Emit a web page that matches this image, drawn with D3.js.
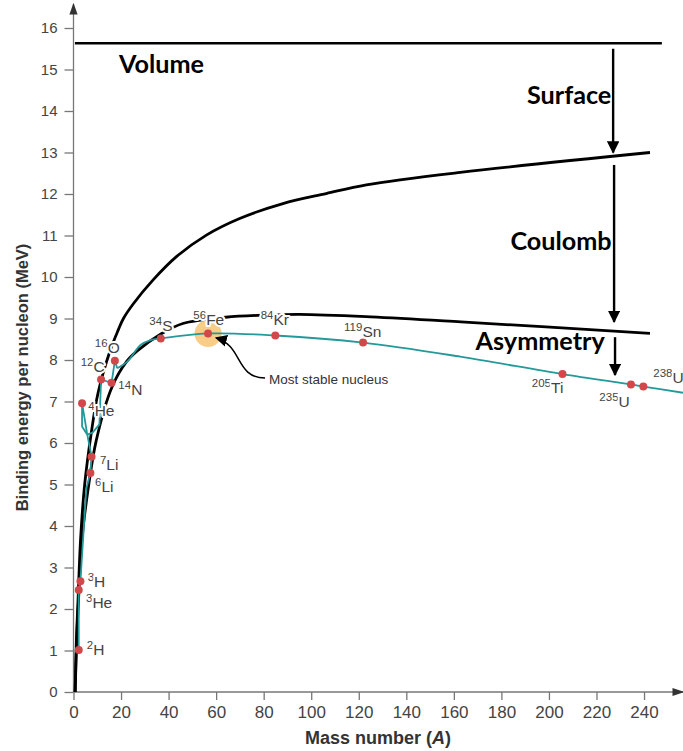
<!DOCTYPE html>
<html><head><meta charset="utf-8">
<script src="https://cdn.jsdelivr.net/npm/d3@7"></script>
<style>
body{margin:0;background:#fff;}
svg{display:block;}
</style></head><body>
<svg id="chart" width="683" height="751"></svg>
<script>
// ---------- data ----------
const xTickValues = [0,20,40,60,80,100,120,140,160,180,200,220,240];
const yTickValues = [0,1,2,3,4,5,6,7,8,9,10,11,12,13,14,15,16];

const volumeLine = [[0.6,15.63],[247.5,15.63]];

const surfaceCurve = [[0.7,0],[1.2,1.2],[1.9,2.2],[3.0,3.7],[4.7,5.0],[7.5,6.25],[10.3,7.2],[15.5,8.24],
  [18.8,8.72],[21,9.0],[25.1,9.35],[33.5,9.93],[43.3,10.49],[55.9,11.01],[69.9,11.41],[88.1,11.77],
  [106.3,12.01],[123.2,12.22],[162.7,12.52],[242.5,13.0]];

const asymmetryCurve = [[0.7,0],[1.3,1.2],[2.1,2.2],[3.6,3.7],[6.1,4.87],[9.6,6.07],[16.2,7.35],[22.3,7.96],
  [26.8,8.22],[36.6,8.62],[46,8.88],[64,9.03],[80,9.08],[95,9.1],[125,9.04],[163,8.92],[242.5,8.64]];

// jagged light-nuclei part, then the smooth heavy part
const experimentalLight = [[2.2,1.01],[2.2,2.46],[2.9,2.67],[5.4,4.9],[7.1,5.28],[7.6,5.67],[5.8,6.2],
  [3.6,6.96],[3.6,6.4],[5.8,6.2],[8.0,6.25],[10.9,6.45],[11.6,7.53],[16.0,7.45],[17.4,7.98],[18.4,7.8]];
const experimentalHeavy = [[18.4,7.8],[22.6,7.96],[28.2,8.36],[32.4,8.48],[36.7,8.52],[56.6,8.64],
  [84.9,8.59],[121.8,8.42],[162.7,8.08],[205.7,7.66],[234.5,7.41],[239.7,7.36],[256.4,7.21]];

const isotopeMass   = ["2","3","3","4","6","7","12","14","16","34","56","84","119","205","235","238"];
const isotopeSymbol = ["H","H","He","He","Li","Li","C","N","O","S","Fe","Kr","Sn","Ti","U","U"];
const isotopeA      = [2.2,2.9,2.2,3.6,7.1,7.6,11.6,16,17.4,36.7,56.6,84.9,121.8,205.7,234.5,239.7];
const isotopeBE     = [1.01,2.67,2.46,6.96,5.28,5.67,7.53,7.45,7.98,8.52,8.64,8.59,8.42,7.66,7.41,7.36];
// label offsets from the dot (px)
const labelDx = [8,7.3,7.3,6.2,4.6,8.4,-20.4,6.8,-20,-11.4,-14.7,-14.6,-19,-30.7,-31.6,10];
const labelDy = [5,5.5,18,13,19,13.3,-7.5,12,-8,-7.4,-8.4,-10.5,-6,19,22.5,-3.6];

const termNames = ["Volume","Surface","Coulomb","Asymmetry"];
const termA     = [37.0,208.5,205.1,196.3];
const termBE    = [14.92,14.17,10.65,8.24];

const arrowA    = [227,227.4,227.8];
const arrowFrom = [15.5,12.7,8.55];
const arrowTo   = [13.0,8.92,7.64];

const stableNucleus = {A:56.6, be:8.64, text:"Most stable nucleus"};

// ---------- drawing ----------
const svg = d3.select("#chart");
const x = d3.scaleLinear().domain([0,256.6]).range([73.5,683.5]);
const y = d3.scaleLinear().domain([0,16]).range([692,28]);
const ink = "#444";

const defs = svg.append("defs");
defs.append("marker").attr("id","ah").attr("viewBox","0 0 10 10").attr("refX",9).attr("refY",5)
  .attr("markerWidth",5.2).attr("markerHeight",5.2).attr("orient","auto").attr("markerUnits","strokeWidth")
  .append("path").attr("d","M0,0 L10,5 L0,10 Z").attr("fill","#000");
defs.append("marker").attr("id","ahs").attr("viewBox","0 0 10 10").attr("refX",9).attr("refY",5)
  .attr("markerWidth",8).attr("markerHeight",8).attr("orient","auto").attr("markerUnits","strokeWidth")
  .append("path").attr("d","M0,0 L10,5 L0,10 Z").attr("fill","#000");
defs.append("marker").attr("id","axh").attr("viewBox","0 0 10 10").attr("refX",9).attr("refY",5)
  .attr("markerWidth",9).attr("markerHeight",9).attr("orient","auto").attr("markerUnits","strokeWidth")
  .append("path").attr("d","M0,1.5 L10,5 L0,8.5 Z").attr("fill","#333");

// axes
const xAxis = svg.append("g").attr("transform",`translate(0,${y(0)})`)
  .call(d3.axisBottom(x).tickValues(xTickValues).tickSize(8).tickPadding(6));
xAxis.select(".domain").remove();
xAxis.selectAll("line").attr("stroke","#777").attr("stroke-width",1.3);
xAxis.selectAll("text").attr("fill",ink).attr("font-family","'Liberation Sans Narrow','Liberation Sans',Arial,sans-serif")
  .attr("font-size",17);

const yAxis = svg.append("g").attr("transform",`translate(${x(0)},0)`)
  .call(d3.axisLeft(y).tickValues(yTickValues).tickSize(9).tickPadding(7));
yAxis.select(".domain").remove();
yAxis.selectAll("line").attr("stroke","#777").attr("stroke-width",1.3);
yAxis.selectAll("text").attr("fill",ink).attr("font-family","'Liberation Sans',Arial,sans-serif").attr("font-size",15);

svg.append("line").attr("x1",x(0)).attr("x2",683).attr("y1",y(0)).attr("y2",y(0))
  .attr("stroke","#777").attr("stroke-width",1.3).attr("marker-end","url(#axh)");
svg.append("line").attr("x1",x(0)).attr("x2",x(0)).attr("y1",y(0)).attr("y2",4)
  .attr("stroke","#777").attr("stroke-width",1.3).attr("marker-end","url(#axh)");

const xt = svg.append("text").attr("x",378).attr("y",744).attr("text-anchor","middle")
  .attr("font-family","'Liberation Sans Narrow','Liberation Sans',Arial,sans-serif").attr("font-weight","bold")
  .attr("font-size",18).attr("fill","#333");
xt.append("tspan").text("Mass number (");
xt.append("tspan").attr("font-style","italic").text("A");
xt.append("tspan").text(")");

svg.append("text").attr("transform","translate(27.5,377.5) rotate(-90)").attr("text-anchor","middle")
  .attr("font-family","'Liberation Sans',Arial,sans-serif").attr("font-weight","bold").attr("font-size",16.5)
  .attr("fill","#333").text("Binding energy per nucleon (MeV)");

// stable highlight
svg.append("circle").attr("cx",x(stableNucleus.A)).attr("cy",y(stableNucleus.be)).attr("r",13.5)
  .attr("fill","#f8c77a").attr("opacity",0.9);

// curves
const line = d3.line().x(d=>x(d[0])).y(d=>y(d[1]));
const smooth = d3.line().x(d=>x(d[0])).y(d=>y(d[1])).curve(d3.curveCatmullRom.alpha(0.5));
svg.append("path").attr("d",line(volumeLine)).attr("fill","none").attr("stroke","#000").attr("stroke-width",2.5);
svg.append("path").attr("d",smooth(surfaceCurve)).attr("fill","none").attr("stroke","#000").attr("stroke-width",2.8);
svg.append("path").attr("d",smooth(asymmetryCurve)).attr("fill","none").attr("stroke","#000").attr("stroke-width",2.8);
svg.append("path").attr("d",line(experimentalLight)).attr("fill","none").attr("stroke","#23999a")
  .attr("stroke-width",1.8).attr("stroke-linejoin","round");
svg.append("path").attr("d",smooth(experimentalHeavy)).attr("fill","none").attr("stroke","#23999a")
  .attr("stroke-width",1.8).attr("stroke-linejoin","round");

// term arrows
arrowA.forEach((a,i)=>{
  svg.append("line").attr("x1",x(a)).attr("x2",x(a)).attr("y1",y(arrowFrom[i])).attr("y2",y(arrowTo[i]))
    .attr("stroke","#000").attr("stroke-width",2.4).attr("marker-end","url(#ah)");
});

// dots
svg.selectAll("circle.iso").data(isotopeA).join("circle").attr("class","iso")
  .attr("cx",(d)=>x(d)).attr("cy",(d,i)=>y(isotopeBE[i])).attr("r",4).attr("fill","#d2474a");

// most stable annotation
const sx = x(stableNucleus.A), sy = y(stableNucleus.be);
svg.append("path").attr("d",`M${sx+57},${sy+44.5} C${sx+27},${sy+44.5} ${sx+35},${sy+12} ${sx+8},${sy+4.5}`)
  .attr("fill","none").attr("stroke","#000").attr("stroke-width",1.5).attr("marker-end","url(#ahs)");
svg.append("text").attr("x",sx+61).attr("y",sy+51).attr("font-family","'Liberation Sans',Arial,sans-serif")
  .attr("font-size",13.5).attr("fill","#333").text(stableNucleus.text);

// isotope labels
isotopeA.forEach((a,i)=>{
  const t = svg.append("text").attr("x",x(a)+labelDx[i]).attr("y",y(isotopeBE[i])+labelDy[i])
    .attr("font-family","'Liberation Sans',Arial,sans-serif").attr("fill",ink)
    .attr("stroke","#fff").attr("stroke-width",4).attr("paint-order","stroke").attr("stroke-linejoin","round");
  t.append("tspan").attr("font-size",11.5).attr("dy",-6).text(isotopeMass[i]);
  t.append("tspan").attr("font-size",15.5).attr("dy",6).text(isotopeSymbol[i]);
});

// term labels
termNames.forEach((n,i)=>{
  svg.append("text").attr("x",x(termA[i])).attr("y",y(termBE[i])).attr("text-anchor","middle")
    .attr("font-family","Lato,'Open Sans',sans-serif").attr("font-weight","bold").attr("font-size",25.2)
    .attr("fill","#000").text(n);
});
</script>
</body></html>
